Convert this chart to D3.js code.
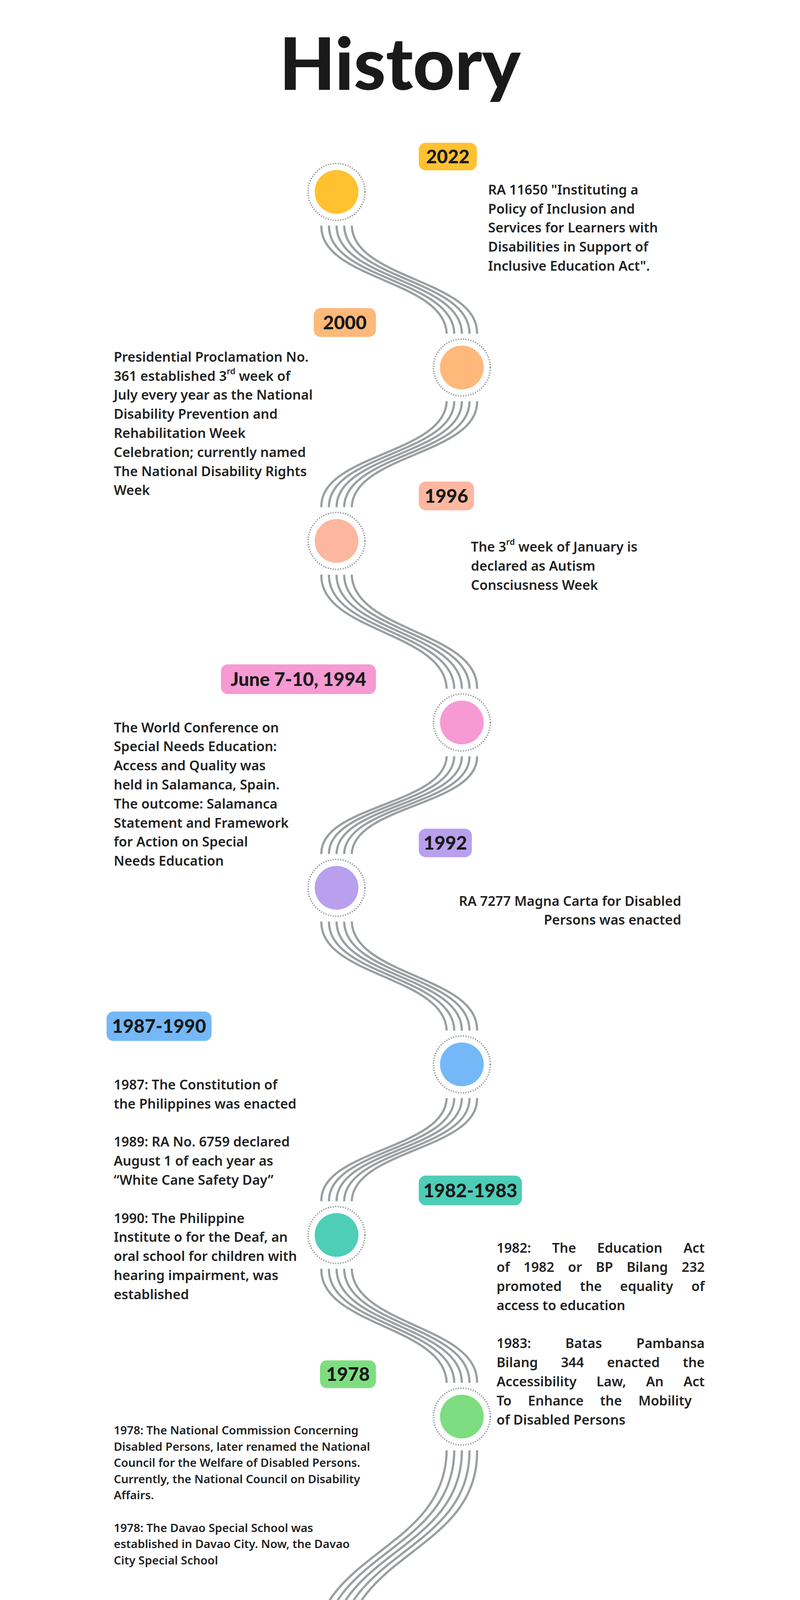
<!DOCTYPE html>
<html><head><meta charset="utf-8">
<script src="https://cdn.jsdelivr.net/npm/d3@7"></script>
<style>html,body{margin:0;padding:0;background:#fff;overflow:hidden}svg{display:block}</style></head>
<body><svg id="c" viewBox="0 0 2048 5120" preserveAspectRatio="xMidYMin meet" style="width:100vw;height:100vh"></svg>
<script>
const years = ["2022","2000","1996","June 7-10, 1994","1992","1987-1990","1982-1983","1978"];
const colors = ["#FFC130","#FDB97A","#FDB7A0","#F799D2","#B9A0EE","#74B8F8","#4ECDB7","#7EDD80"];
const descriptions = [
 ['RA 11650 "Instituting a','Policy of Inclusion and','Services for Learners with','Disabilities in Support of','Inclusive Education Act".'],
 ['Presidential Proclamation  No.','361 established 3^rd week of','July every year as the National','Disability Prevention and','Rehabilitation Week','Celebration; currently named','The National Disability Rights','Week'],
 ['The 3^rd week of January is','declared as Autism','Consciusness Week'],
 ['The World Conference on','Special Needs Education:','Access and Quality was','held in Salamanca, Spain.','The outcome: Salamanca','Statement and Framework','for Action on Special','Needs Education'],
 ['RA 7277 Magna Carta for Disabled','Persons was enacted'],
 ['1987: The Constitution of','the Philippines was enacted','','1989: RA No. 6759 declared','August 1 of each year as','“White Cane Safety Day”','','1990: The Philippine','Institute o for the Deaf, an','oral school for children with','hearing impairment, was','established'],
 ['1982: The Education Act','of 1982 or BP Bilang 232','promoted the equality of','access to education','','1983: Batas Pambansa','Bilang 344 enacted the','Accessibility Law, An Act','To Enhance the  Mobility','of Disabled Persons'],
 ['1978: The National Commission Concerning','Disabled Persons, later renamed the National','Council for the Welfare of Disabled Persons.','Currently, the National Council on Disability','Affairs.','','1978: The Davao Special School was','established in Davao City. Now, the Davao','City Special School']
];
// layout (not data)
const circleY = [614,1176,1731,2312,2841,3406,3952,4533];
const pillBox = [[1084,457,1270,545],[748,986,947,1078],[1084,1541,1261,1633],[451,2126,947,2221],[1084,2652,1254,2743],[85,3237,421,3331],[1084,3762,1414,3857],[768,4353,947,4442]];
const textPos = [[1306,611,'start'],[108,1146,'start'],[1251,1754,'start'],[108,2332,'start'],[1924,2887,'end'],[108,3475,'start'],[1333,3998,'justify'],[108,4580,'small']];

const svg = d3.select("#c");
const W=2048;
svg.append("rect").attr("width",2048).attr("height",5120).attr("fill","#fff");
svg.append("text").attr("x",W/2).attr("y",287).attr("text-anchor","middle")
  .attr("font-family","Lato, 'Open Sans', sans-serif").attr("font-weight",900)
  .attr("font-size",232).attr("fill","#1a1a1a").text("History");

const xs = d3.scaleOrdinal().domain([0,1]).range([821,1222]);
const nodes = years.map((y,i)=>({i,x:xs(i%2),y:circleY[i]}));
nodes.push({i:8,x:800,y:5400});
const gLines = svg.append("g").attr("fill","none").attr("stroke","#9a9fa1").attr("stroke-width",7);
const sp=27, gap=108;
for(let i=0;i<nodes.length-1;i++){
  const a=nodes[i], b=nodes[i+1];
  for(let k=-2;k<=2;k++){
    const y0=a.y+gap, y1=b.y-gap, m=(y0+y1)/2;
    const p=d3.path();
    p.moveTo(a.x+k*sp*0.9,y0);
    p.bezierCurveTo(a.x+k*sp,m,b.x+k*sp,m,b.x+k*sp*0.9,y1);
    gLines.append("path").attr("d",p.toString());
  }
}
const gC = svg.append("g");
nodes.slice(0,8).forEach((n,i)=>{
  gC.append("circle").attr("cx",n.x).attr("cy",n.y).attr("r",91).attr("fill","#fff")
    .attr("stroke","#8a8e90").attr("stroke-width",5).attr("stroke-dasharray","3 5");
  gC.append("circle").attr("cx",n.x).attr("cy",n.y).attr("r",70).attr("fill",colors[i]);
});
years.forEach((y,i)=>{
  const [x0,y0,x1,y1]=pillBox[i];
  svg.append("rect").attr("x",x0).attr("y",y0).attr("width",x1-x0).attr("height",y1-y0)
    .attr("rx",22).attr("fill",colors[i]);
  svg.append("text").attr("x",(x0+x1)/2).attr("y",(y0+y1)/2).attr("dy","0.36em")
    .attr("text-anchor","middle").attr("font-family","Lato, sans-serif").attr("font-weight",900)
    .attr("font-size",60).attr("fill","#1a1a1a").text(y);
});
function addLine(t,x,y,str,fs){
  const el=t.append("tspan").attr("x",x).attr("y",y);
  const parts=str.split("^");
  if(parts.length>1){
    const m=parts[1].match(/^(\S+)(.*)$/);
    el.text(parts[0]);
    t.append("tspan").attr("dy",-fs*0.4).attr("font-size",fs*0.62).text(m[1]);
    t.append("tspan").attr("dy",fs*0.4).text(m[2]);
  } else el.text(str);
}
descriptions.forEach((lines,i)=>{
  const [x,y,mode]=textPos[i];
  const fs = mode==='small'?37:43, lh = mode==='small'?52:61;
  lines.forEach((ln,j)=>{
    if(!ln) return;
    const yy=y+j*lh;
    const t=svg.append("text").attr("font-family","'Noto Sans', sans-serif").attr("font-weight",600)
      .attr("font-size",fs).attr("fill","#222").attr("dominant-baseline","middle")
      .attr("text-anchor",mode==='end'?'end':'start');
    addLine(t,x,yy,ln,fs);
    if(mode==='justify'){
      const last = j===lines.length-1 || !lines[j+1];
      if(!last){
        const w=t.node().getComputedTextLength();
        const nsp=(ln.match(/ /g)||[]).length;
        if(nsp>0) t.attr("word-spacing",(1999-x-w)/nsp);
      }
    }
  });
});
</script></body></html>
